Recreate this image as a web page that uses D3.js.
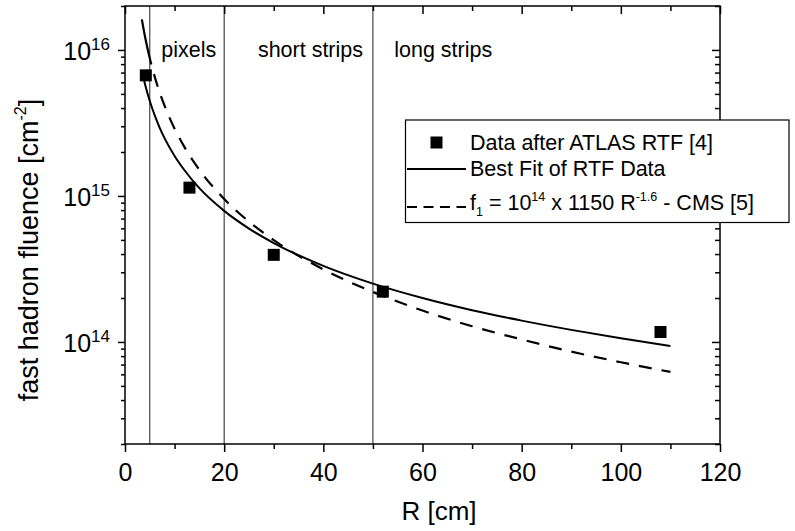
<!DOCTYPE html>
<html>
<head>
<meta charset="utf-8">
<script src="https://cdn.jsdelivr.net/npm/d3@7"></script>
<style>
  body { margin: 0; background: #fff; }
  svg { font-family: "Liberation Sans", Arial, Helvetica, sans-serif; }
</style>
</head>
<body>
<script>
"use strict";

// measured fluence points (ATLAS RTF)
const dataR = [4.2, 13, 30, 52, 108];
const dataFluence = [6.7e15, 1.14e15, 3.95e14, 2.21e14, 1.17e14];

// best fit curve
const fitR = [3.4, 4, 5, 6, 7, 8, 10, 12, 15, 20, 25, 30, 40, 50, 60, 70, 80, 90, 100, 110];
const fitFluence = [7.24e15, 5.90e15, 4.47e15, 3.56e15, 2.93e15, 2.48e15, 1.88e15, 1.50e15,
                    1.13e15, 7.90e14, 5.98e14, 4.76e14, 3.32e14, 2.51e14, 2.00e14, 1.65e14,
                    1.40e14, 1.21e14, 1.06e14, 9.38e13];

// CMS parametrisation f1
const cmsR = [3.4, 4, 5, 6, 7, 8, 10, 12, 15, 20, 25, 30, 40, 50, 60, 70, 80, 90, 100, 110];
const cmsFluence = [1.62e16, 1.25e16, 8.76e15, 6.54e15, 5.11e15, 4.13e15, 2.89e15, 2.16e15,
                    1.51e15, 9.53e14, 6.67e14, 4.98e14, 3.14e14, 2.20e14, 1.64e14, 1.28e14,
                    1.04e14, 8.59e13, 7.26e13, 6.23e13];

const regionEdges = [5, 20, 50];
const regionNames = ["pixels", "short strips", "long strips"];

const xTicks = [0, 20, 40, 60, 80, 100, 120];
const xMinorTicks = [10, 30, 50, 70, 90, 110];
const yTicks = [1e14, 1e15, 1e16];
const yTickExponents = ["14", "15", "16"];

const legendLabels = ["Data after ATLAS RTF [4]", "Best Fit of RTF Data"];
// third legend entry, [text, kind]
const cmsLabelParts = [["f", ""], ["1", "sub"], [" = 10", ""], ["14", "sup"],
                       [" x 1150 R", ""], ["-1.6", "sup"], [" - CMS [5]", ""]];

const width = 795, height = 531;
const plot = { left: 125, right: 720, top: 6, bottom: 444 };

const x = d3.scaleLinear().domain([0, 120]).range([plot.left, plot.right]);
const y = d3.scaleLog().domain([2e13, 2e16]).range([plot.bottom, plot.top]);

const svg = d3.select("body").append("svg")
              .attr("width", width)
              .attr("height", height);

// region separators
svg.append("g")
   .selectAll("line")
   .data(regionEdges)
   .join("line")
   .attr("x1", d => x(d)).attr("x2", d => x(d))
   .attr("y1", plot.top).attr("y2", plot.bottom)
   .attr("stroke", "#222")
   .attr("stroke-width", 1);

// region labels (x in data units)
const regionLabelR = [7.3, 26.8, 54.3];
svg.append("g")
   .selectAll("text")
   .data(regionNames)
   .join("text")
   .attr("x", (d, i) => x(regionLabelR[i]))
   .attr("y", 57)
   .attr("font-size", 21.5)
   .text(d => d);

const line = d3.line()
               .x(d => x(d[0]))
               .y(d => y(d[1]))
               .curve(d3.curveMonotoneX);

svg.append("path")
   .datum(d3.zip(fitR, fitFluence))
   .attr("d", line)
   .attr("fill", "none")
   .attr("stroke", "#000")
   .attr("stroke-width", 2);

const curveDash = "46,10," + Array(40).fill("13,10").join(",");
svg.append("path")
   .datum(d3.zip(cmsR, cmsFluence))
   .attr("d", line)
   .attr("fill", "none")
   .attr("stroke", "#000")
   .attr("stroke-width", 2.2)
   .attr("stroke-dasharray", curveDash);

const sq = 12;
svg.append("g")
   .selectAll("rect")
   .data(d3.zip(dataR, dataFluence))
   .join("rect")
   .attr("x", d => x(d[0]) - sq / 2)
   .attr("y", d => y(d[1]) - sq / 2)
   .attr("width", sq)
   .attr("height", sq)
   .attr("fill", "#000");

// frame
svg.append("rect")
   .attr("x", plot.left).attr("y", plot.top)
   .attr("width", plot.right - plot.left)
   .attr("height", plot.bottom - plot.top)
   .attr("fill", "none")
   .attr("stroke", "#000")
   .attr("stroke-width", 1.5);

const styleAxis = s => {
    s.select(".domain").remove();
    s.attr("font-family", null).attr("font-size", 25);
    s.selectAll("line").attr("stroke-width", 1.5);
};

const yMinor = y.ticks().filter(v => !yTicks.some(t => Math.abs(t - v) / t < 1e-6));

// bottom
svg.append("g").attr("transform", `translate(0,${plot.bottom})`)
   .call(d3.axisBottom(x).tickValues(xTicks).tickSize(8).tickPadding(11))
   .call(styleAxis);
svg.append("g").attr("transform", `translate(0,${plot.bottom})`)
   .call(d3.axisBottom(x).tickValues(xMinorTicks).tickSize(5).tickFormat(""))
   .call(styleAxis);
// top (inward)
svg.append("g").attr("transform", `translate(0,${plot.top})`)
   .call(d3.axisTop(x).tickValues(xTicks).tickSize(-8).tickFormat(""))
   .call(styleAxis);
svg.append("g").attr("transform", `translate(0,${plot.top})`)
   .call(d3.axisTop(x).tickValues(xMinorTicks).tickSize(-5).tickFormat(""))
   .call(styleAxis);

// left
const leftAxis = svg.append("g").attr("transform", `translate(${plot.left},0)`)
   .call(d3.axisLeft(y).tickValues(yTicks).tickSize(7).tickPadding(8).tickFormat(""))
   .call(styleAxis);
leftAxis.selectAll(".tick text")
        .attr("dy", "0.38em")
        .each(function (d, i) {
            const t = d3.select(this);
            t.append("tspan").text("10");
            t.append("tspan").attr("dy", -10).attr("font-size", 17).text(yTickExponents[i]);
        });
svg.append("g").attr("transform", `translate(${plot.left},0)`)
   .call(d3.axisLeft(y).tickValues(yMinor).tickSize(4).tickFormat(""))
   .call(styleAxis);
// right (inward)
svg.append("g").attr("transform", `translate(${plot.right},0)`)
   .call(d3.axisRight(y).tickValues(yTicks).tickSize(-8).tickFormat(""))
   .call(styleAxis);
svg.append("g").attr("transform", `translate(${plot.right},0)`)
   .call(d3.axisRight(y).tickValues(yMinor).tickSize(-5).tickFormat(""))
   .call(styleAxis);

// axis titles
svg.append("text")
   .attr("x", 439).attr("y", 520)
   .attr("text-anchor", "middle")
   .attr("font-size", 26)
   .text("R [cm]");

const yTitle = svg.append("text")
   .attr("transform", "translate(38,250) rotate(-90)")
   .attr("text-anchor", "middle")
   .attr("font-size", 27);
yTitle.append("tspan").text("fast hadron fluence [cm");
yTitle.append("tspan").attr("dy", -12).attr("font-size", 16).text("-2");
yTitle.append("tspan").attr("dy", 12).text("]");

// legend
const legend = svg.append("g");
legend.append("rect")
      .attr("x", 405.5).attr("y", 120)
      .attr("width", 383.5).attr("height", 102.5)
      .attr("fill", "#fff")
      .attr("stroke", "#000")
      .attr("stroke-width", 1.2);
legend.append("rect")
      .attr("x", 430.5).attr("y", 136.5)
      .attr("width", 12).attr("height", 12)
      .attr("fill", "#000");
legend.append("line")
      .attr("x1", 407).attr("x2", 466)
      .attr("y1", 169).attr("y2", 169)
      .attr("stroke", "#000").attr("stroke-width", 2);
legend.append("line")
      .attr("x1", 407).attr("x2", 466)
      .attr("y1", 207).attr("y2", 207)
      .attr("stroke", "#000").attr("stroke-width", 2.2)
      .attr("stroke-dasharray", "10,6.5");
legend.selectAll("text.lab")
      .data(legendLabels)
      .join("text")
      .attr("class", "lab")
      .attr("x", 470)
      .attr("y", (d, i) => [150, 176][i])
      .attr("font-size", 21.5)
      .text(d => d);

const cmsText = legend.append("text")
      .attr("x", 470).attr("y", 210)
      .attr("font-size", 21.5);
let shift = 0;
cmsLabelParts.forEach(([txt, kind]) => {
    const target = kind === "sup" ? -9 : kind === "sub" ? 6 : 0;
    cmsText.append("tspan")
           .attr("dy", target - shift)
           .attr("font-size", kind ? 12.5 : null)
           .text(txt);
    shift = target;
});
</script>
</body>
</html>
